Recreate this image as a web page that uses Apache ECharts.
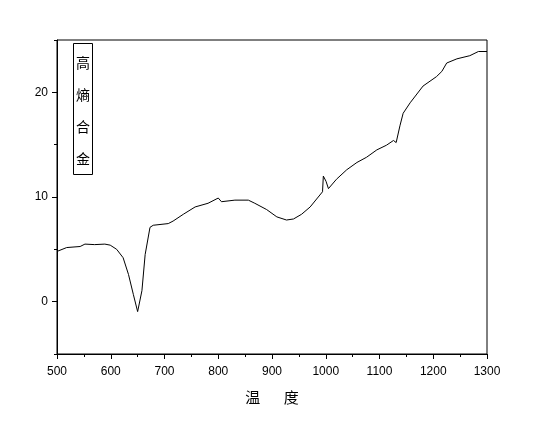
<!DOCTYPE html>
<html>
<head>
<meta charset="utf-8">
<script src="https://cdn.jsdelivr.net/npm/echarts@6/dist/echarts.min.js"></script>
<style>
  html, body { margin: 0; padding: 0; background: #fff; }
  #chart { width: 555px; height: 425px; }
</style>
</head>
<body>
<div id="chart"></div>
<script>
// temperature readings (x) and signal (y)
const temps = [500, 518, 543, 552, 570, 589, 599, 611, 623, 633, 642, 650, 658, 664, 673, 679,
    707, 716, 735, 757, 781, 800, 806, 831, 856, 868, 890, 909, 927, 940, 955, 971, 994,
    995.5, 1000.5, 1005, 1020, 1039, 1058, 1076, 1095, 1113, 1126, 1129, 1131, 1138, 1144,
    1157, 1181, 1206, 1216, 1225, 1244, 1268, 1284, 1300];
const signal = [4.8, 5.17, 5.27, 5.5, 5.45, 5.5, 5.4, 5.0, 4.2, 2.6, 0.7, -0.95, 1.05, 4.5, 7.1, 7.3,
    7.46, 7.7, 8.35, 9.05, 9.4, 9.9, 9.55, 9.7, 9.7, 9.4, 8.8, 8.1, 7.8, 7.9, 8.35, 9.05, 10.5,
    12.0, 11.5, 10.8, 11.7, 12.6, 13.3, 13.8, 14.5, 14.95, 15.4, 15.5, 15.2, 16.8, 18.0,
    19.0, 20.6, 21.5, 22.0, 22.8, 23.2, 23.5, 23.9, 23.9];
const yMajor = [0, 10, 20];
const yMinor = [-5, 5, 15, 25];
const seriesName = '高熵合金';
const xTitle = '温       度';

const black = { color: '#000' };
const chart = echarts.init(document.getElementById('chart'));
chart.setOption({
    animation: false,
    grid: {
        left: 57, right: 68, top: 40, bottom: 71,
        show: true, borderColor: '#000', borderWidth: 1
    },
    xAxis: {
        type: 'value', min: 500, max: 1300, interval: 100,
        name: xTitle, nameLocation: 'middle', nameGap: 36,
        nameTextStyle: { fontSize: 15, color: '#000', fontFamily: 'Noto Sans CJK SC' },
        axisLine: { onZero: false, lineStyle: black },
        axisTick: { length: 5, lineStyle: black },
        minorTick: { show: true, splitNumber: 2, length: 3, lineStyle: black },
        axisLabel: {
            color: '#000', fontSize: 12, fontFamily: 'Liberation Sans', margin: 12,
            formatter: v => String(v)
        },
        splitLine: { show: false }
    },
    yAxis: [{
        type: 'value', min: -5, max: 25,
        axisLine: { show: true, lineStyle: black },
        axisTick: { show: true, length: 5, lineStyle: black, customValues: yMajor },
        axisLabel: {
            color: '#000', fontSize: 12, fontFamily: 'Liberation Sans', margin: 9,
            customValues: yMajor
        },
        splitLine: { show: false }
    }, {
        // minor ticks only
        type: 'value', min: -5, max: 25, position: 'left',
        axisLine: { show: false },
        axisTick: { show: true, length: 3, lineStyle: black, customValues: yMinor },
        axisLabel: { show: false },
        splitLine: { show: false }
    }],
    graphic: [
        {
            type: 'rect', left: 73, top: 43,
            shape: { width: 19, height: 131 },
            style: { fill: '#fff', stroke: '#000', lineWidth: 1 }
        },
        {
            type: 'text', left: 76, top: 47,
            style: {
                text: seriesName.split('').join('\n'),
                font: '14px "Noto Sans CJK SC"', lineHeight: 32, fill: '#000'
            }
        }
    ],
    series: [{
        name: seriesName,
        type: 'line',
        showSymbol: false,
        lineStyle: { color: '#000', width: 1 },
        data: temps.map((t, i) => [t, signal[i]])
    }]
});
</script>
</body>
</html>
